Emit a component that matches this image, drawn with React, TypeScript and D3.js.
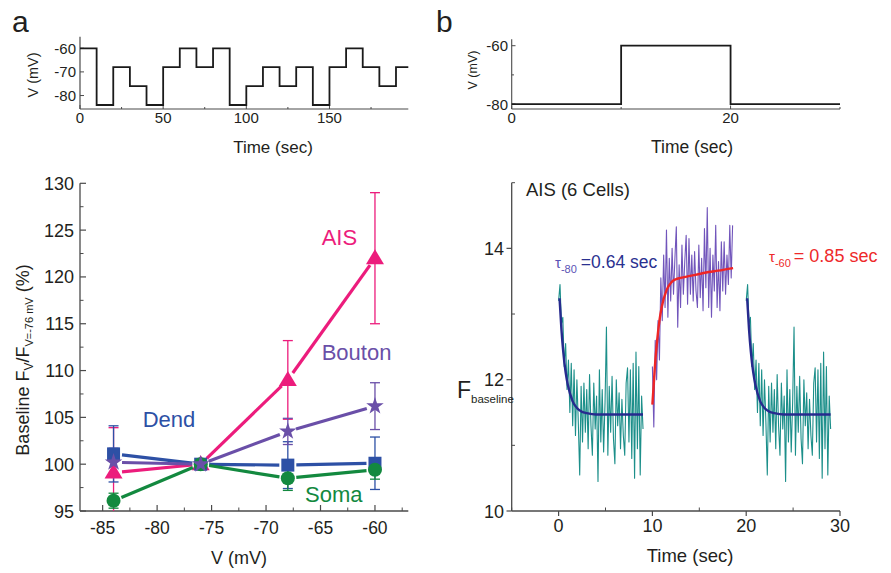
import React from 'react';
import * as d3 from 'd3';

const FONT = '"Liberation Sans", Arial, Helvetica, sans-serif';
const TXT = '#231f20';
const AXC = '#4a4a4a';

// ---------- Panel a, protocol ----------
const protoAStart = [0, 10, 20, 30, 40, 50, 60, 70, 80, 90, 100, 110, 120, 130, 140, 150, 160, 170, 180, 190];
const protoALevel = [-60, -84, -68, -76, -84, -68, -60, -68, -60, -84, -76, -68, -76, -68, -84, -68, -60, -68, -76, -68];
const protoAEnd = 197.4;
const protoAXTicks = [0, 50, 100, 150];
const protoAXMinor = [25, 75, 125, 175];
const protoAYTicks = [-60, -70, -80];

// ---------- Panel a, main ----------
const voltages = [-84, -76, -68, -60];
const aisMean = [99.1, 100, 109, 122];
const aisErr = [4.8, 0, 4.2, 7];
const dendMean = [101.1, 100, 99.9, 100.1];
const dendErr = [3.0, 0, 2.5, 2.8];
const somaMean = [96.1, 100, 98.5, 99.4];
const somaErr = [0.8, 0, 1.3, 1.0];
const boutonMean = [100.2, 100, 103.5, 106.2];
const boutonErr = [1.5, 0, 1.4, 2.5];
const mainAXTicks = [-85, -80, -75, -70, -65, -60];
const mainAYTicks = [95, 100, 105, 110, 115, 120, 125, 130];

// ---------- Panel b, protocol ----------
const protoBStart = [0, 10, 20];
const protoBLevel = [-80, -60, -80];
const protoBEnd = 30;
const protoBXTicks = [0, 20];
const protoBYTicks = [-60, -80];

// ---------- Panel b, main ----------
const tealStart = 0;
const tealDt = 0.15;
const tealValues = [
  13.2, 13.45, 12.85, 12.95, 12.2, 12.55, 11.85, 12.3, 11.5, 12.25,
  11.3, 12.15, 11.15, 12.0, 11.35, 10.55, 11.9, 11.05, 11.95, 11.2,
  11.85, 10.95, 12.08, 11.3, 10.85, 11.95, 11.25, 11.75, 10.45, 12.15,
  11.05, 11.85, 10.9, 11.65, 12.8, 10.85, 11.9, 11.2, 12.05, 11.1,
  10.72, 12.0, 11.3, 11.8, 10.95, 11.7, 11.15, 10.85, 11.95, 12.18,
  11.05, 12.15, 10.8, 12.25, 10.5, 12.42, 10.95, 12.2, 10.55, 11.75,
  11.25,
];
const tealOffsets = [0, 20];
const purpleStart = 10;
const purpleDt = 0.15;
const purpleValues = [
  12.2, 11.28, 12.6, 12.0, 12.9, 12.3, 13.55, 12.9, 13.9, 13.1,
  14.28, 12.95, 13.85, 13.2, 14.0, 13.3, 13.85, 14.33, 12.8, 13.75,
  13.1, 14.05, 13.3, 13.8, 14.2, 13.15, 14.15, 13.3, 13.9, 13.2,
  13.95, 13.35, 13.1, 14.05, 13.25, 13.85, 13.05, 14.3, 13.4, 14.62,
  13.1, 14.0, 12.95, 13.9, 13.35, 14.35, 13.1, 13.8, 13.05, 14.1,
  13.35, 14.1, 13.3, 13.9, 13.45, 14.35, 13.55, 14.35,
];
const blueFitT = [0.1, 0.3, 0.5, 0.75, 1.0, 1.5, 2.0, 2.5, 3.0, 4.0, 9.0];
const blueFitV = [13.24, 12.77, 12.42, 12.11, 11.91, 11.67, 11.56, 11.51, 11.49, 11.47, 11.47];
const redFitT = [10.0, 10.25, 10.5, 10.75, 11.0, 11.5, 12.0, 12.5, 13, 14, 15, 16, 17, 18.6];
const redFitV = [11.62, 12.17, 12.59, 12.9, 13.11, 13.36, 13.48, 13.53, 13.55, 13.58, 13.61, 13.64, 13.66, 13.7];
const mainBXTicks = [0, 10, 20, 30];
const mainBXMinor = [-5, 5, 15, 25];
const mainBYTicks = [10, 12, 14];
const mainBYMinor = [11, 13, 15];

function stepPath(starts: number[], levels: number[], end: number, x: any, y: any) {
  const pts: [number, number][] = [];
  starts.forEach((s, i) => {
    const e = i + 1 < starts.length ? starts[i + 1] : end;
    pts.push([s, levels[i]]);
    pts.push([e, levels[i]]);
  });
  return d3.line<[number, number]>().x(d => x(d[0])).y(d => y(d[1]))(pts) || '';
}

function shorten(x1: number, y1: number, x2: number, y2: number, g: number) {
  const dx = x2 - x1, dy = y2 - y1;
  const L = Math.hypot(dx, dy);
  if (L < 2 * g) return null;
  const ux = dx / L, uy = dy / L;
  return [x1 + ux * g, y1 + uy * g, x2 - ux * g, y2 - uy * g];
}

function Marker({ kind, cx, cy, color }: { kind: string; cx: number; cy: number; color: string }) {
  if (kind === 'triangle') {
    const w = 18, h = 15;
    return <path d={`M${cx},${cy - h * 0.6}L${cx + w / 2},${cy + h * 0.4}L${cx - w / 2},${cy + h * 0.4}Z`} fill={color} />;
  }
  if (kind === 'square') {
    return <rect x={cx - 6.5} y={cy - 6.5} width={13} height={13} fill={color} />;
  }
  if (kind === 'circle') {
    return <circle cx={cx} cy={cy} r={7} fill={color} />;
  }
  const p = d3.symbol().type(d3.symbolStar).size(95)() || '';
  return <path d={p} transform={`translate(${cx},${cy})`} fill={color} />;
}

export default function App() {
  const xPA = d3.scaleLinear().domain([0, 197.4]).range([80, 408.3]);
  const yPA = d3.scaleLinear().domain([-85.7, -55.1]).range([109, 36.7]);

  const xA = d3.scaleLinear().domain([-87.08, -56.94]).range([80, 408.3]);
  const yA = d3.scaleLinear().domain([95, 130]).range([511, 183.3]);

  const xPB = d3.scaleLinear().domain([0, 30]).range([511.7, 840]);
  const yPB = d3.scaleLinear().domain([-81.7, -57.8]).range([109, 39.3]);

  const xB = d3.scaleLinear().domain([-5, 30]).range([511.7, 840]);
  const yB = d3.scaleLinear().domain([10, 15]).range([511, 182.7]);

  const series = [
    { name: 'AIS', mean: aisMean, err: aisErr, color: '#ec1c7c', marker: 'triangle' },
    { name: 'Dend', mean: dendMean, err: dendErr, color: '#2d50a5', marker: 'square' },
    { name: 'Soma', mean: somaMean, err: somaErr, color: '#13893f', marker: 'circle' },
    { name: 'Bouton', mean: boutonMean, err: boutonErr, color: '#6a4fa8', marker: 'star' },
  ];

  const traceLine = d3.line<[number, number]>().x(d => xB(d[0])).y(d => yB(d[1]));
  const fitLine = d3.line<[number, number]>().x(d => xB(d[0])).y(d => yB(d[1])).curve(d3.curveMonotoneX);

  const tealPts = (off: number) => tealValues.map((v, i) => [tealStart + i * tealDt + off, v] as [number, number]);
  const purplePts = purpleValues.map((v, i) => [purpleStart + i * purpleDt, v] as [number, number]);
  const bluePts = (off: number) => blueFitT.map((t, i) => [t + off, blueFitV[i]] as [number, number]);
  const redPts = redFitT.map((t, i) => [t, redFitV[i]] as [number, number]);

  const [yA0, yA1] = yA.domain();
  const minorAY = d3.range(97.5, 130, 5);
  const minorAX = d3.range(-82.5, -57, 5);

  return (
    <svg width={891} height={573} style={{ position: 'absolute', left: 0, top: 0, background: '#fff' }} fontFamily={FONT}>
      <text x={12} y={32} fontSize={30} fill={TXT}>a</text>
      <text x={436} y={32} fontSize={30} fill={TXT}>b</text>

      {/* Panel a protocol */}
      <g>
        <line x1={80} x2={80} y1={36.7} y2={109} stroke={AXC} strokeWidth={1.2} />
        <line x1={80} x2={408.3} y1={109} y2={109} stroke={AXC} strokeWidth={1.2} />
        {protoAXTicks.map(t => (
          <g key={t}>
            <line x1={xPA(t)} x2={xPA(t)} y1={109} y2={105} stroke={AXC} strokeWidth={1} />
            <text x={xPA(t)} y={123} fontSize={15} textAnchor="middle" fill={TXT}>{t}</text>
          </g>
        ))}
        {protoAXMinor.map(t => (
          <line key={t} x1={xPA(t)} x2={xPA(t)} y1={109} y2={107} stroke={AXC} strokeWidth={1} />
        ))}
        {protoAYTicks.map(v => (
          <g key={v}>
            <line x1={80} x2={84} y1={yPA(v)} y2={yPA(v)} stroke={AXC} strokeWidth={1} />
            <text x={76} y={yPA(v) + 5.5} fontSize={15} textAnchor="end" fill={TXT}>{v}</text>
          </g>
        ))}
        <path d={stepPath(protoAStart, protoALevel, protoAEnd, xPA, yPA)} fill="none" stroke="#1a1a1a" strokeWidth={1.8} />
        <text transform="translate(38,75) rotate(-90)" fontSize={14.5} textAnchor="middle" fill={TXT}>V (mV)</text>
        <text x={273} y={153} fontSize={17} textAnchor="middle" fill={TXT}>Time (sec)</text>
      </g>

      {/* Panel a main */}
      <g>
        <line x1={80} x2={80} y1={183.3} y2={511} stroke={AXC} strokeWidth={1.3} />
        <line x1={80} x2={408.3} y1={511} y2={511} stroke={AXC} strokeWidth={1.3} />
        {mainAYTicks.map(v => (
          <g key={v}>
            <line x1={80} x2={86} y1={yA(v)} y2={yA(v)} stroke={AXC} strokeWidth={1.2} />
            <text x={74} y={yA(v) + 6.5} fontSize={18} textAnchor="end" fill={TXT}>{v}</text>
          </g>
        ))}
        {minorAY.map(v => (
          <line key={v} x1={80} x2={83.5} y1={yA(v)} y2={yA(v)} stroke={AXC} strokeWidth={1} />
        ))}
        {mainAXTicks.map(v => (
          <g key={v}>
            <line x1={xA(v)} x2={xA(v)} y1={511} y2={505} stroke={AXC} strokeWidth={1.2} />
            <text x={xA(v)} y={534} fontSize={17.5} textAnchor="middle" fill={TXT}>{v}</text>
          </g>
        ))}
        {minorAX.map(v => (
          <line key={v} x1={xA(v)} x2={xA(v)} y1={511} y2={507.5} stroke={AXC} strokeWidth={1} />
        ))}
        <text transform="translate(29,360) rotate(-90)" fontSize={18} textAnchor="middle" fill={TXT}>
          Baseline F<tspan dy={4} fontSize={12}>V</tspan><tspan dy={-4}>/F</tspan>
          <tspan dy={4} fontSize={11}>V=-76 mV</tspan><tspan dy={-4}> (%)</tspan>
        </text>
        <text x={239} y={564} fontSize={18} textAnchor="middle" fill={TXT}>V (mV)</text>

        {series.map(s => (
          <g key={s.name + 'err'}>
            {voltages.map((v, i) => {
              if (!s.err[i]) return null;
              const x = xA(v);
              const top = s.mean[i] + s.err[i];
              const bot = Math.max(yA0, s.mean[i] - s.err[i]);
              const y1 = yA(Math.min(yA1, top));
              const y2 = yA(bot);
              return (
                <g key={i}>
                  <line x1={x} x2={x} y1={y1} y2={y2} stroke={s.color} strokeWidth={1.3} />
                  <line x1={x - 5} x2={x + 5} y1={y1} y2={y1} stroke={s.color} strokeWidth={1.3} />
                  {s.mean[i] - s.err[i] >= yA0 && (
                    <line x1={x - 5} x2={x + 5} y1={y2} y2={y2} stroke={s.color} strokeWidth={1.3} />
                  )}
                </g>
              );
            })}
          </g>
        ))}
        {series.map(s => (
          <g key={s.name}>
            {voltages.slice(1).map((v, j) => {
              const seg = shorten(xA(voltages[j]), yA(s.mean[j]), xA(v), yA(s.mean[j + 1]), 8.5);
              if (!seg) return null;
              return <line key={j} x1={seg[0]} y1={seg[1]} x2={seg[2]} y2={seg[3]} stroke={s.color} strokeWidth={3.2} strokeLinecap="butt" />;
            })}
            {voltages.map((v, i) => (
              <Marker key={i} kind={s.marker} cx={xA(v)} cy={yA(s.mean[i])} color={s.color} />
            ))}
          </g>
        ))}
        <text x={321.7} y={245} fontSize={22} fill="#ec1c7c">AIS</text>
        <text x={321.7} y={359.5} fontSize={22} fill="#6a4fa8">Bouton</text>
        <text x={142.7} y={427} fontSize={22} fill="#2d50a5">Dend</text>
        <text x={305} y={502} fontSize={22} fill="#13893f">Soma</text>
      </g>

      {/* Panel b protocol */}
      <g>
        <line x1={511.7} x2={511.7} y1={39.3} y2={109} stroke={AXC} strokeWidth={1.1} />
        <line x1={511.7} x2={840} y1={109} y2={109} stroke={AXC} strokeWidth={1.1} />
        {protoBXTicks.map(t => (
          <g key={t}>
            <line x1={xPB(t)} x2={xPB(t)} y1={109} y2={105.5} stroke={AXC} strokeWidth={1} />
            <text x={xPB(t)} y={123} fontSize={15} textAnchor="middle" fill={TXT}>{t}</text>
          </g>
        ))}
        {[10, 30].map(t => (
          <line key={t} x1={xPB(t)} x2={xPB(t)} y1={109} y2={107} stroke={AXC} strokeWidth={1} />
        ))}
        {protoBYTicks.map(v => (
          <g key={v}>
            <line x1={511.7} x2={515.5} y1={yPB(v)} y2={yPB(v)} stroke={AXC} strokeWidth={1} />
            <text x={508} y={yPB(v) + 5.5} fontSize={15} textAnchor="end" fill={TXT}>{v}</text>
          </g>
        ))}
        <line x1={511.7} x2={514} y1={yPB(-70)} y2={yPB(-70)} stroke={AXC} strokeWidth={1} />
        <path d={stepPath(protoBStart, protoBLevel, protoBEnd, xPB, yPB)} fill="none" stroke="#1a1a1a" strokeWidth={1.8} />
        <text transform="translate(477,70) rotate(-90)" fontSize={12.5} textAnchor="middle" fill={TXT}>V (mV)</text>
        <text x={692} y={153} fontSize={17.5} textAnchor="middle" fill={TXT}>Time (sec)</text>
      </g>

      {/* Panel b main */}
      <g>
        <line x1={511.7} x2={511.7} y1={182.7} y2={511} stroke={AXC} strokeWidth={1.3} />
        <line x1={511.7} x2={840} y1={511} y2={511} stroke={AXC} strokeWidth={1.3} />
        {mainBYTicks.map(v => (
          <g key={v}>
            <line x1={506.5} x2={511.7} y1={yB(v)} y2={yB(v)} stroke={AXC} strokeWidth={1.2} />
            <text x={504} y={yB(v) + 6.5} fontSize={18} textAnchor="end" fill={TXT}>{v}</text>
          </g>
        ))}
        {mainBYMinor.map(v => (
          <line key={v} x1={511.7} x2={515} y1={yB(v)} y2={yB(v)} stroke={AXC} strokeWidth={1} />
        ))}
        {mainBXTicks.map(t => (
          <g key={t}>
            <line x1={xB(t)} x2={xB(t)} y1={511} y2={516} stroke={AXC} strokeWidth={1.2} />
            <text x={xB(t)} y={532} fontSize={18} textAnchor="middle" fill={TXT}>{t}</text>
          </g>
        ))}
        {mainBXMinor.map(t => (
          <line key={t} x1={xB(t)} x2={xB(t)} y1={511} y2={507.5} stroke={AXC} strokeWidth={1} />
        ))}
        <text x={457} y={398} fontSize={23} fill={TXT}>
          F<tspan dy={5} fontSize={11.5}>baseline</tspan>
        </text>
        <text x={690} y={562} fontSize={18.5} textAnchor="middle" fill={TXT}>Time (sec)</text>
        <text x={526} y={196} fontSize={18.5} fill={TXT}>AIS (6 Cells)</text>

        {tealOffsets.map(off => (
          <path key={'t' + off} d={traceLine(tealPts(off)) || ''} fill="none" stroke="#1c8f8a" strokeWidth={1.1} strokeLinejoin="round" />
        ))}
        <path d={traceLine(purplePts) || ''} fill="none" stroke="#7155bb" strokeWidth={1.1} strokeLinejoin="round" />
        {tealOffsets.map(off => (
          <path key={'b' + off} d={fitLine(bluePts(off)) || ''} fill="none" stroke="#272a8e" strokeWidth={2.4} />
        ))}
        <path d={fitLine(redPts) || ''} fill="none" stroke="#ef2525" strokeWidth={2.4} />

        <text x={555} y={268} fontSize={17.5} fill="#2a3190">
          <tspan fill="#5a52b5" fontSize={15}>τ</tspan>
          <tspan fill="#5a52b5" fontSize={11} dy={5}>-80</tspan>
          <tspan dy={-5} dx={4}>=0.64 sec</tspan>
        </text>
        <text x={769} y={262} fontSize={18} fill="#ee2a2a">
          <tspan fontSize={15}>τ</tspan>
          <tspan fontSize={11} dy={5}>-60</tspan>
          <tspan dy={-5} dx={3}>= 0.85 sec</tspan>
        </text>
      </g>
    </svg>
  );
}
